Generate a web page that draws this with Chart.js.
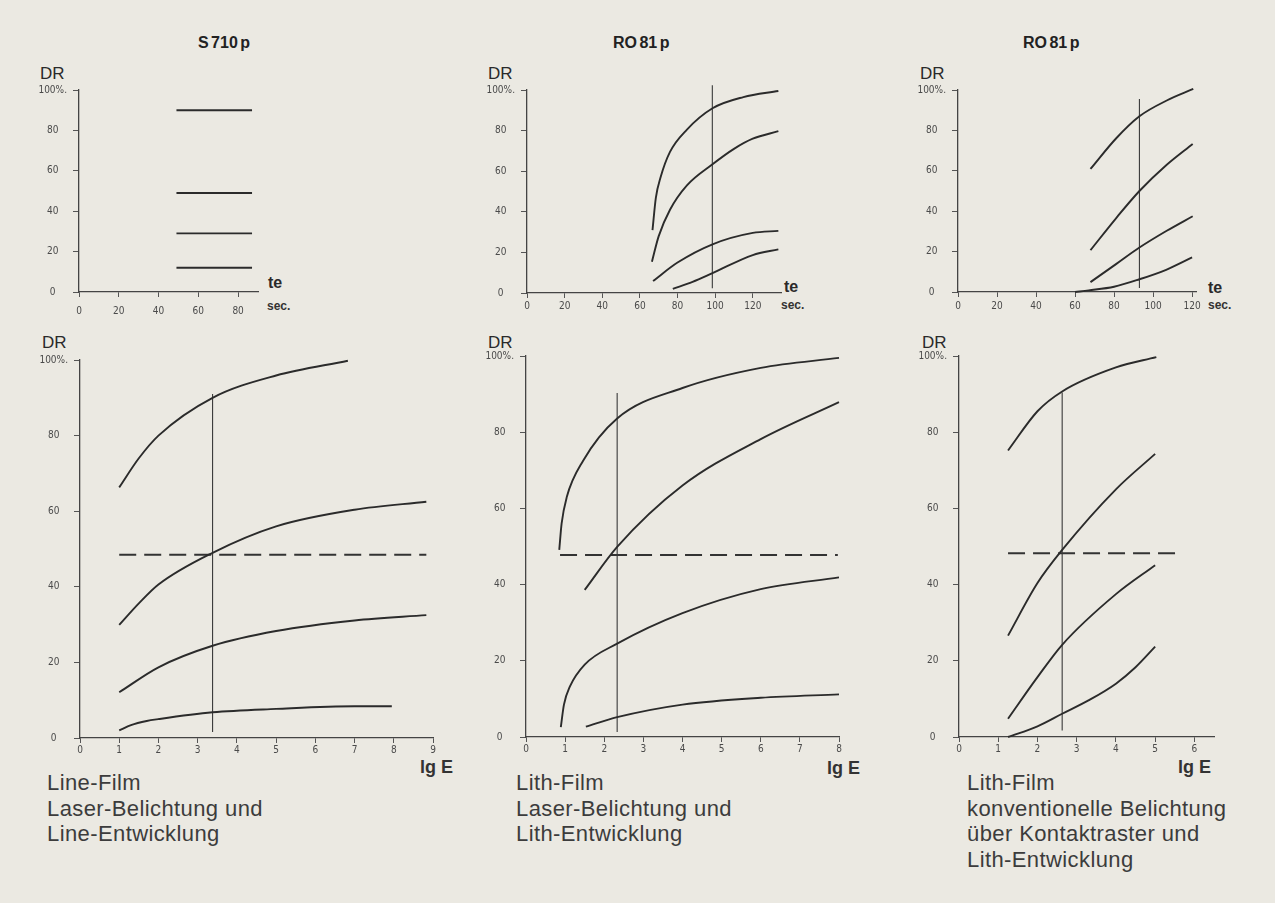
<!DOCTYPE html>
<html>
<head>
<meta charset="utf-8">
<script src="https://cdn.jsdelivr.net/npm/chart.js@4.4.0/dist/chart.umd.min.js"></script>
<style>
  body { margin: 0; width: 1275px; height: 903px; overflow: hidden; position: relative;
         background: #ebe9e2; font-family: "Liberation Sans", Arial, sans-serif; color: #333; }
  canvas { position: absolute; }
  .t { position: absolute; line-height: 1; transform: translateY(-50%); white-space: nowrap; }
  .title { font-size: 16px; font-weight: bold; color: #222; word-spacing: -2px; }
  .dr { font-size: 17px; color: #2a2a2a; }
  .te { font-size: 16px; font-weight: bold; color: #2a2a2a; }
  .sec { font-size: 12px; font-weight: bold; color: #333; }
  .lge { font-size: 18px; font-weight: bold; color: #333; }
  .cap { position: absolute; font-size: 22px; letter-spacing: 0.4px; line-height: 25.5px; color: #3c3c3c; white-space: nowrap; }
</style>
</head>
<body>

<div class="t title" style="left:198px; top:43px">S 710 p</div>
<div class="t title" style="left:613px; top:43px">RO 81 p</div>
<div class="t title" style="left:1023px; top:43px">RO 81 p</div>

<div class="t dr" style="left:40px; top:73px">DR</div>
<div class="t dr" style="left:488px; top:73px">DR</div>
<div class="t dr" style="left:920px; top:73px">DR</div>
<div class="t dr" style="left:42px; top:342px">DR</div>
<div class="t dr" style="left:488px; top:342px">DR</div>
<div class="t dr" style="left:922px; top:342px">DR</div>

<div class="t te" style="left:268px; top:283px">te</div>
<div class="t te" style="left:784px; top:287px">te</div>
<div class="t te" style="left:1208px; top:288px">te</div>
<div class="t sec" style="left:267px; top:306px">sec.</div>
<div class="t sec" style="left:781px; top:305px">sec.</div>
<div class="t sec" style="left:1208px; top:305px">sec.</div>

<div class="t lge" style="left:420px; top:767px">lg E</div>
<div class="t lge" style="left:827px; top:768px">lg E</div>
<div class="t lge" style="left:1178px; top:767px">lg E</div>

<div class="cap" style="left:47px; top:770px">Line-Film<br>Laser-Belichtung und<br>Line-Entwicklung</div>
<div class="cap" style="left:516px; top:770px">Lith-Film<br>Laser-Belichtung und<br>Lith-Entwicklung</div>
<div class="cap" style="left:967px; top:770px">Lith-Film<br>konventionelle Belichtung<br>über Kontaktraster und<br>Lith-Entwicklung</div>

<canvas id="c1"></canvas>
<canvas id="c2"></canvas>
<canvas id="c3"></canvas>
<canvas id="c4"></canvas>
<canvas id="c5"></canvas>
<canvas id="c6"></canvas>

<script>
// ---------- tick values ----------
const yTicks = [0, 20, 40, 60, 80, 100];
const teTicks1 = [0, 20, 40, 60, 80];
const teTicks2 = [0, 20, 40, 60, 80, 100, 120];
const lgTicks9 = [0, 1, 2, 3, 4, 5, 6, 7, 8, 9];
const lgTicks8 = [0, 1, 2, 3, 4, 5, 6, 7, 8];
const lgTicks6 = [0, 1, 2, 3, 4, 5, 6];

// ---------- panel 1: S 710 p, DR over te ----------
const p1X = [49, 87];
const p1A = [90, 90];
const p1B = [49, 49];
const p1C = [29, 29];
const p1D = [12, 12];

// ---------- panel 2: RO 81 p, DR over te ----------
const p2AX = [66.7, 68.5, 71, 76, 85, 98.6, 115, 133.6];
const p2AY = [31, 47, 57, 69.5, 80.5, 91, 96.5, 99.5];
const p2BX = [66.4, 70, 76, 85, 98.6, 110, 120, 133.6];
const p2BY = [15.4, 28, 41, 53, 63.4, 71, 76, 79.7];
const p2CX = [67, 80, 98.6, 120, 133.6];
const p2CY = [5.9, 15, 24, 29.6, 30.6];
const p2DX = [77.5, 88, 98.6, 120, 133.6];
const p2DY = [2, 5.5, 9.8, 18.7, 21.5];
const p2VX = [98.5, 98.5];
const p2VY = [2.4, 102.4];

// ---------- panel 3: RO 81 p, DR over te ----------
const p3AX = [67.9, 81, 93, 107, 120.6];
const p3AY = [60.9, 76, 87, 94.8, 100.5];
const p3BX = [67.9, 81, 93, 107, 120.3];
const p3BY = [20.7, 36.5, 50, 63, 73.3];
const p3CX = [67.9, 81, 93, 107, 120.3];
const p3CY = [4.9, 13.8, 22, 30.3, 37.5];
const p3DX = [60, 67, 80, 93, 106.7, 120];
const p3DY = [0, 0.8, 2.6, 6.3, 11, 17.1];
const p3VX = [93, 93];
const p3VY = [2, 95.6];

// ---------- panel 4: Line-Film, DR over lg E ----------
const p4AX = [1, 1.5, 2, 3.38, 5, 6.83];
const p4AY = [66.3, 74, 80, 90, 95.9, 99.8];
const p4BX = [1, 1.5, 2, 3.38, 5, 7, 8.83];
const p4BY = [29.9, 35.6, 40.6, 49, 56, 60.4, 62.5];
const p4CX = [1, 2, 3.38, 5, 7, 8.83];
const p4CY = [12.1, 18.7, 24.4, 28.3, 31.1, 32.5];
const p4DX = [1, 1.3, 1.7, 2, 3.38, 5, 7, 7.95];
const p4DY = [2, 3.4, 4.5, 5, 6.8, 7.7, 8.4, 8.4];
const p4VX = [3.38, 3.38];
const p4VY = [1.6, 91];
const p4HX = [1, 8.83];
const p4HY = [48.5, 48.5];

// ---------- panel 5: Lith-Film laser, DR over lg E ----------
const p5AX = [0.85, 0.91, 1.04, 1.46, 2.33, 4, 6, 8];
const p5AY = [49.1, 56, 62.9, 72.5, 83.6, 91.6, 96.9, 99.5];
const p5BX = [1.5, 2.33, 4, 6, 8];
const p5BY = [38.6, 49.9, 66, 78.2, 87.9];
const p5CX = [0.89, 0.97, 1.12, 1.5, 2.33, 4, 6, 8];
const p5CY = [2.6, 8.5, 13.2, 19, 24.5, 32.5, 38.8, 41.9];
const p5DX = [1.53, 2.33, 4, 6, 8];
const p5DY = [2.7, 5.2, 8.5, 10.3, 11.2];
const p5VX = [2.33, 2.33];
const p5VY = [1.3, 90.3];
const p5HX = [0.87, 7.97];
const p5HY = [47.8, 47.8];

// ---------- panel 6: Lith-Film konventionell, DR over lg E ----------
const p6AX = [1.25, 2, 2.63, 4, 5.03];
const p6AY = [75.2, 85.5, 90.7, 97, 99.7];
const p6BX = [1.25, 2, 2.63, 4, 5];
const p6BY = [26.6, 40.4, 49.1, 65, 74.3];
const p6CX = [1.25, 2, 2.63, 4, 5];
const p6CY = [4.8, 15.7, 24.2, 37.5, 45.1];
const p6DX = [1.25, 2, 2.63, 3.3, 4, 4.5, 5];
const p6DY = [0, 2.8, 6.1, 9.6, 14, 18.3, 23.7];
const p6VX = [2.63, 2.63];
const p6VY = [1.7, 90.4];
const p6HX = [1.25, 5.56];
const p6HY = [48.2, 48.2];

// ---------- helpers ----------
const INK = '#2b2b2b';
const Y_W = 45, X_H = 25, PAD_T = 10, PAD_R = 16;

function pts(xs, ys) {
    return xs.map((x, i) => ({ x: x, y: ys[i] }));
}

function curve(xs, ys) {
    return { data: pts(xs, ys), borderColor: INK, borderWidth: 1.9, pointRadius: 0,
             cubicInterpolationMode: 'monotone', fill: false, clip: false };
}

function vline(xs, ys) {
    return { data: pts(xs, ys), borderColor: '#3a3a3a', borderWidth: 1.1, pointRadius: 0, clip: false };
}

function dashed(xs, ys) {
    return { data: pts(xs, ys), borderColor: '#333', borderWidth: 2, borderDash: [17, 8],
             pointRadius: 0, clip: false };
}

// area = chart area in page pixels
function panel(id, area, xMax, xTicks, labelPad, datasets) {
    const cv = document.getElementById(id);
    const w = Y_W + (area.r - area.l) + PAD_R;
    const h = PAD_T + (area.b - area.t) + X_H;
    cv.width = w; cv.height = h;
    cv.style.left = (area.l - Y_W) + 'px';
    cv.style.top = (area.t - PAD_T) + 'px';
    cv.style.width = w + 'px';
    cv.style.height = h + 'px';

    const tickFont = { family: '"DejaVu Sans Condensed", "DejaVu Sans", sans-serif', size: 10 };

    return new Chart(cv, {
        type: 'line',
        data: { datasets: datasets },
        options: {
            responsive: false,
            animation: false,
            layout: { padding: { top: PAD_T, right: PAD_R, left: 0, bottom: 0 } },
            plugins: { legend: { display: false }, tooltip: { enabled: false } },
            scales: {
                x: {
                    type: 'linear', min: 0, max: xMax,
                    afterBuildTicks: s => { s.ticks = xTicks.map(v => ({ value: v })); },
                    afterFit: s => { s.height = X_H; },
                    grid: { drawOnChartArea: false, drawTicks: true, tickLength: 5, color: '#555', lineWidth: 1 },
                    border: { color: '#444', width: 1.3 },
                    ticks: { padding: labelPad, font: tickFont, color: '#4a4a4a', maxRotation: 0, autoSkip: false }
                },
                y: {
                    type: 'linear', min: 0, max: 100,
                    afterBuildTicks: s => { s.ticks = yTicks.map(v => ({ value: v })); },
                    afterFit: s => { s.width = Y_W; },
                    grid: { drawOnChartArea: false, drawTicks: true, tickLength: 6, color: '#555', lineWidth: 1 },
                    border: { color: '#444', width: 1.3 },
                    ticks: { padding: 6, crossAlign: 'center', font: tickFont, color: '#4a4a4a',
                             callback: v => v === 100 ? '100%.' : v }
                }
            }
        }
    });
}

// ---------- panels ----------
var ChartOne = panel('c1', { l: 79, t: 88, r: 258, b: 292 }, 90, teTicks1, 8, [
    curve(p1X, p1A), curve(p1X, p1B), curve(p1X, p1C), curve(p1X, p1D)
]);

var ChartTwo = panel('c2', { l: 527, t: 88, r: 781, b: 293 }, 135, teTicks2, 2, [
    curve(p2AX, p2AY), curve(p2BX, p2BY), curve(p2CX, p2CY), curve(p2DX, p2DY), vline(p2VX, p2VY)
]);

var ChartThree = panel('c3', { l: 958, t: 88, r: 1196, b: 292 }, 122, teTicks2, 3, [
    curve(p3AX, p3AY), curve(p3BX, p3BY), curve(p3CX, p3CY), curve(p3DX, p3DY), vline(p3VX, p3VY)
]);

var ChartFour = panel('c4', { l: 80, t: 358, r: 433, b: 738 }, 9, lgTicks9, 1, [
    curve(p4AX, p4AY), curve(p4BX, p4BY), curve(p4CX, p4CY), curve(p4DX, p4DY),
    vline(p4VX, p4VY), dashed(p4HX, p4HY)
]);

var ChartFive = panel('c5', { l: 526, t: 354, r: 839, b: 737 }, 8, lgTicks8, 1, [
    curve(p5AX, p5AY), curve(p5BX, p5BY), curve(p5CX, p5CY), curve(p5DX, p5DY),
    vline(p5VX, p5VY), dashed(p5HX, p5HY)
]);

var ChartSix = panel('c6', { l: 959, t: 354, r: 1214, b: 737 }, 6.5, lgTicks6, 1, [
    curve(p6AX, p6AY), curve(p6BX, p6BY), curve(p6CX, p6CY), curve(p6DX, p6DY),
    vline(p6VX, p6VY), dashed(p6HX, p6HY)
]);
</script>
</body>
</html>
